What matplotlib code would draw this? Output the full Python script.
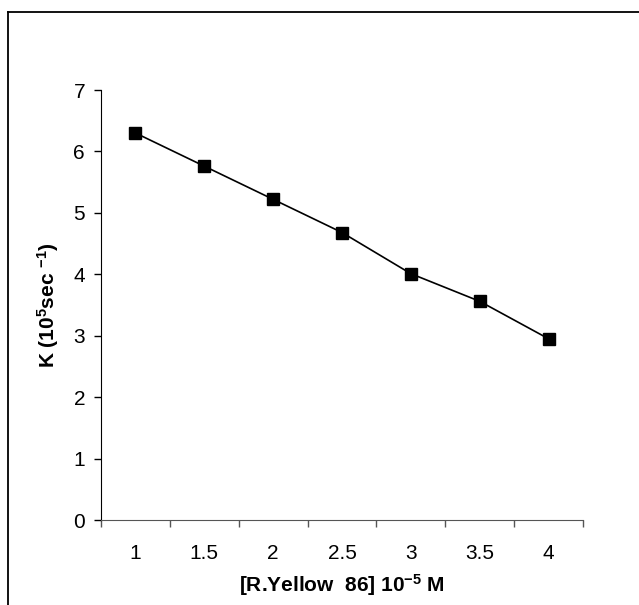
import numpy as np
import matplotlib.pyplot as plt
from matplotlib.lines import Line2D

# --- Datos ---
conc_labels = ['1', '1.5', '2', '2.5', '3', '3.5', '4']
k_values = [6.30, 5.76, 5.22, 4.68, 4.01, 3.56, 2.95]
y_ticks = [0, 1, 2, 3, 4, 5, 6, 7]

plt.rcParams['font.family'] = ['Liberation Sans', 'DejaVu Sans']
plt.rcParams['mathtext.fontset'] = 'custom'
plt.rcParams['mathtext.rm'] = 'Liberation Sans'
plt.rcParams['mathtext.bf'] = 'Liberation Sans:bold'
plt.rcParams['mathtext.default'] = 'bf'

fig = plt.figure(figsize=(6.39, 6.05), dpi=100)
ax = fig.add_axes([101 / 639, 1 - 520 / 605, (583 - 101) / 639, (520 - 90) / 605])

# Eje de categorías estilo Excel: puntos en el centro de cada categoría
x = np.arange(1, len(conc_labels) + 1)
ax.plot(x, k_values, color='black', lw=1.2, marker='s', ms=8.5,
        markerfacecolor='black', markeredgecolor='black')

ax.set_xlim(0.5, len(conc_labels) + 0.5)
ax.set_ylim(0, 7)

# Ticks mayores en los bordes de categoría, etiquetas en los centros
ax.set_xticks(np.arange(0.5, len(conc_labels) + 1, 1))
ax.set_xticklabels([])
ax.set_xticks(x, minor=True)
ax.set_xticklabels(conc_labels, minor=True)
ax.tick_params(axis='x', which='major', direction='out', length=5, width=1, color='#555555')
ax.tick_params(axis='x', which='minor', length=0, pad=17, labelsize=15)

ax.set_yticks(y_ticks)
ax.tick_params(axis='y', direction='out', length=5, width=1, pad=6.5, labelsize=15)

ax.spines['top'].set_visible(False)
ax.spines['right'].set_visible(False)
ax.spines['left'].set_color('black')
ax.spines['bottom'].set_color('#555555')

ax.set_xlabel('[R.Yellow  86] 10$^{-5}$ M', fontsize=15, fontweight='bold', labelpad=7)
ax.set_ylabel('K (10$^{5}$sec $^{-1}$)', fontsize=15, fontweight='bold', labelpad=9)

# Marco exterior (solo arriba e izquierda visibles)
fig.add_artist(Line2D([8 / 639, 1], [1 - 12 / 605, 1 - 12 / 605],
                      transform=fig.transFigure, color='black', lw=1.3))
fig.add_artist(Line2D([8 / 639, 8 / 639], [0, 1 - 12 / 605],
                      transform=fig.transFigure, color='black', lw=1.3))

fig.savefig('out.png', dpi=100)
